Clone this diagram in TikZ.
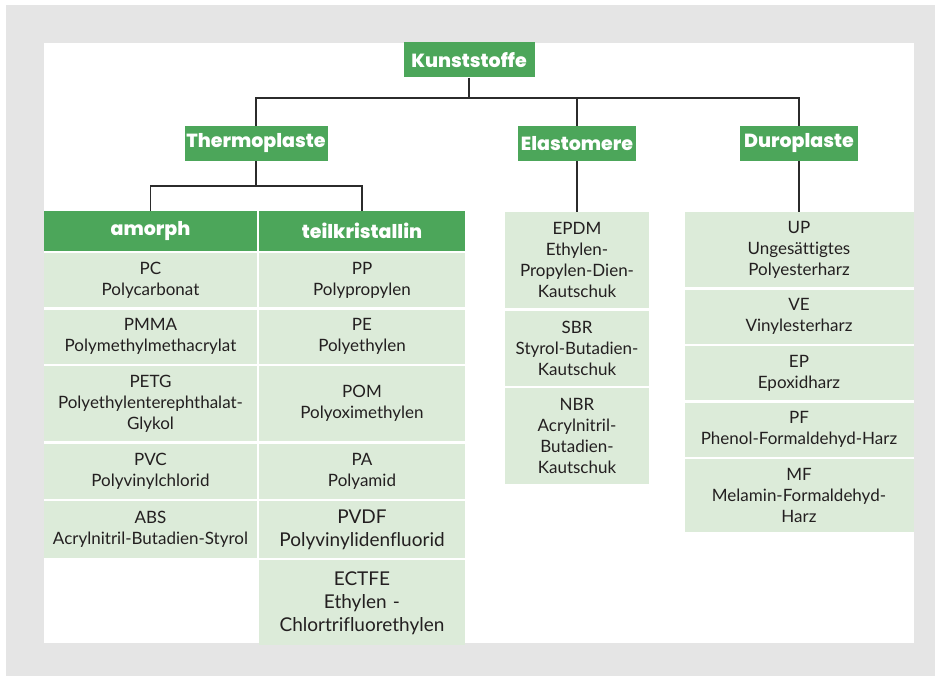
\documentclass[tikz,border=0pt]{standalone}
\usepackage{fontspec}
\setmainfont{Lato}[Ligatures=NoCommon]
\newfontfamily\headfont{Poppins}[BoldFont={* ExtraBold}]
\usetikzlibrary{positioning}
\definecolor{kgreen}{HTML}{4CA65A}
\definecolor{kpale}{HTML}{DCEBD9}
\definecolor{kgray}{HTML}{E5E5E5}
\definecolor{ktext}{HTML}{231F20}
\definecolor{kline}{HTML}{2B2B2B}
\tikzset{
  cat_node/.style = {fill=kgreen, text=white, inner sep=0pt,
    font=\headfont\bfseries\fontsize{19}{21}\selectfont,
    minimum height=35pt},% Oberbegriff
  head_node/.style = {cat_node, minimum height=40pt},% Spaltenkopf
  cell_node/.style = {fill=kpale, text=ktext, align=center, inner sep=0pt,
    font=\fontsize{17}{21}\selectfont},% Werkstoff
  big_cell/.style = {cell_node, font=\fontsize{19}{23}\selectfont},
  col_a/.style = {cell_node, text width=213pt},% amorph
  col_t/.style = {cell_node, text width=206pt},% teilkristallin
  col_e/.style = {cell_node, text width=144pt},% Elastomere
  col_d/.style = {cell_node, text width=229pt},% Duroplaste
  link/.style = {draw=kline, line width=1.7pt}
}

\begin{document}
\begin{tikzpicture}[x=1pt, y=-1pt]
  \useasboundingbox (0,0) rectangle (938,676);
  \fill [kgray] (6,5) rectangle (935,676);
  \fill [white] (44,43) rectangle (914,643);

  % Oberbegriffe
  \node [cat_node, minimum width=131pt] (kunst) at (469,60) {Kunststoffe};
  \node [cat_node, minimum width=143pt] (thermo) at (256,143.5) {Thermoplaste};
  \node [cat_node, minimum width=118pt] (elast) at (577,143.5) {Elastomere};
  \node [cat_node, minimum width=118pt] (duro) at (799,143.5) {Duroplaste};
  \node [head_node, minimum width=213pt] (amorph) at (150.5,231) {amorph};
  \node [head_node, minimum width=206pt] (teil) at (362,231) {teilkristallin};

  % amorph
  \node [col_a, minimum height=54pt, below=2pt of amorph] (pc) {PC\\Polycarbonat};
  \node [col_a, minimum height=54pt, below=2pt of pc] (pmma) {PMMA\\Polymethylmethacrylat};
  \node [col_a, minimum height=75pt, below=2pt of pmma] (petg) {PETG\\Polyethylenterephthalat-\\Glykol};
  \node [col_a, minimum height=55pt, below=2pt of petg] (pvc) {PVC\\Polyvinylchlorid};
  \node [col_a, minimum height=57pt, below=2pt of pvc] (abs) {ABS\\Acrylnitril-Butadien-Styrol};

  % teilkristallin
  \node [col_t, minimum height=54pt, below=2pt of teil] (pp) {PP\\Polypropylen};
  \node [col_t, minimum height=54pt, below=2pt of pp] (pe) {PE\\Polyethylen};
  \node [col_t, minimum height=75pt, below=2pt of pe] (pom) {POM\\Polyoximethylen};
  \node [col_t, minimum height=55pt, below=2pt of pom] (pa) {PA\\Polyamid};
  \node [col_t, big_cell, minimum height=57pt, below=2pt of pa] (pvdf) {PVDF\\Polyvinylidenfluorid};
  \node [col_t, big_cell, minimum height=85pt, below=2pt of pvdf] (ectfe) {ECTFE\\Ethylen -\\Chlortrifluorethylen};

  % Elastomere
  \node [col_e, minimum height=96pt, below=51pt of elast] (epdm) {EPDM\\Ethylen-\\Propylen-Dien-\\Kautschuk};
  \node [col_e, minimum height=75pt, below=2pt of epdm] (sbr) {SBR\\Styrol-Butadien-\\Kautschuk};
  \node [col_e, minimum height=96pt, below=2pt of sbr] (nbr) {NBR\\Acrylnitril-\\Butadien-\\Kautschuk};

  % Duroplaste
  \node [col_d, minimum height=75pt, below=51pt of duro] (up) {UP\\Ungesättigtes\\Polyesterharz};
  \node [col_d, minimum height=54pt, below=2pt of up] (ve) {VE\\Vinylesterharz};
  \node [col_d, minimum height=54pt, below=2pt of ve] (ep) {EP\\Epoxidharz};
  \node [col_d, minimum height=54pt, below=2pt of ep] (pf) {PF\\Phenol-Formaldehyd-Harz};
  \node [col_d, minimum height=73pt, below=2pt of pf] (mf) {MF\\Melamin-Formaldehyd-\\Harz};

  % Verbindungen
  \coordinate (bus) at (469,98);
  \coordinate (bus2) at (256,186);
  \draw [link] (kunst) -- (bus) -| (thermo);
  \draw [link] (bus) -| (elast);
  \draw [link] (bus) -| (duro);
  \draw [link] (thermo) -- (bus2) -| (amorph);
  \draw [link] (bus2) -| (teil);
  \draw [link] (elast) -- (epdm);
  \draw [link] (duro) -- (up);
\end{tikzpicture}
\end{document}
